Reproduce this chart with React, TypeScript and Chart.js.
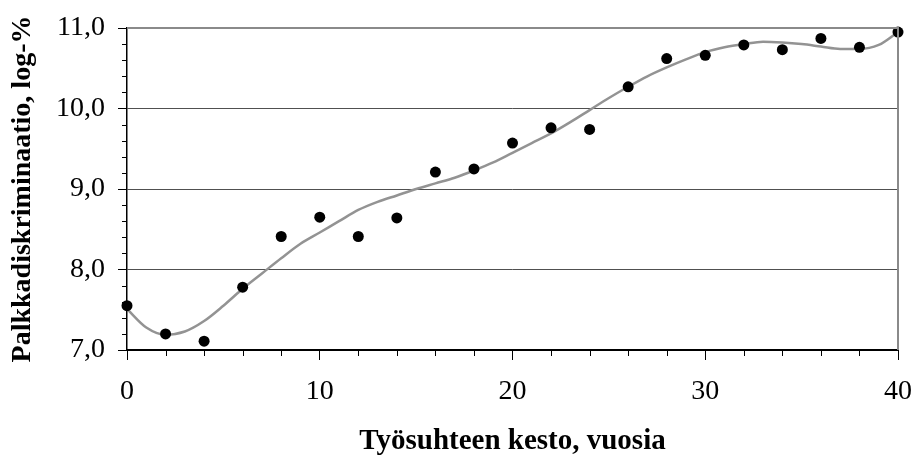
import React, { useEffect, useRef } from "react";
import { Chart, registerables } from "chart.js";

Chart.register(...registerables);

// Observed wage discrimination by tenure (every second year)
const tenureYears = [0, 2, 4, 6, 8, 10, 12, 14, 16, 18, 20, 22, 24, 26, 28, 30, 32, 34, 36, 38, 40];
const discrimination = [
  7.55, 7.2, 7.11, 7.78, 8.41, 8.65, 8.41, 8.64, 9.21, 9.25, 9.57,
  9.76, 9.74, 10.27, 10.62, 10.66, 10.79, 10.73, 10.87, 10.76, 10.95,
];

// Smoothed trend, one value per year
const trendYears = [
  0, 1, 2, 3, 4, 5, 6, 7, 8, 9, 10, 11, 12, 13, 14, 15, 16, 17, 18, 19, 20,
  21, 22, 23, 24, 25, 26, 27, 28, 29, 30, 31, 32, 33, 34, 35, 36, 37, 38, 39, 40,
];
const trendValues = [
  7.51, 7.28, 7.19, 7.23, 7.36, 7.55, 7.76, 7.95, 8.14, 8.32, 8.46,
  8.6, 8.74, 8.84, 8.92, 9.0, 9.07, 9.14, 9.23, 9.33, 9.45,
  9.57, 9.69, 9.83, 9.98, 10.13, 10.27, 10.4, 10.51, 10.61, 10.7,
  10.76, 10.8, 10.83, 10.82, 10.8, 10.77, 10.74, 10.74, 10.79, 10.95,
];

const yTickValues = [7, 8, 9, 10, 11];
const xTickValues = [0, 10, 20, 30, 40];

const FONT = "'Liberation Serif', 'Times New Roman', serif";

const isWhole = (v: number, list: number[]) => list.some((t) => Math.abs(t - v) < 1e-6);

// Short outward tick marks for minor steps plus the grey top/right frame
const framePlugin = {
  id: "frameAndMinorTicks",
  afterDraw(chart: any) {
    const { ctx, chartArea } = chart;
    const xs = chart.scales.x;
    const ys = chart.scales.y;
    ctx.save();
    ctx.strokeStyle = "#000";
    ctx.lineWidth = 1;
    ys.ticks.forEach((t: any) => {
      if (isWhole(t.value, yTickValues)) return;
      const py = Math.round(ys.getPixelForValue(t.value)) + 0.5;
      ctx.beginPath();
      ctx.moveTo(chartArea.left - 5, py);
      ctx.lineTo(chartArea.left, py);
      ctx.stroke();
    });
    xs.ticks.forEach((t: any) => {
      if (isWhole(t.value, xTickValues)) return;
      const px = Math.round(xs.getPixelForValue(t.value)) + 0.5;
      ctx.beginPath();
      ctx.moveTo(px, chartArea.bottom);
      ctx.lineTo(px, chartArea.bottom + 6);
      ctx.stroke();
    });
    ctx.strokeStyle = "#8a8a8a";
    ctx.lineWidth = 2;
    ctx.beginPath();
    ctx.moveTo(chartArea.left, chartArea.top);
    ctx.lineTo(chartArea.right, chartArea.top);
    ctx.lineTo(chartArea.right, chartArea.bottom);
    ctx.stroke();
    ctx.restore();
  },
};

export default function App() {
  const canvasRef = useRef<HTMLCanvasElement | null>(null);

  useEffect(() => {
    if (!canvasRef.current) return;
    const chart = new Chart(canvasRef.current, {
      type: "scatter",
      data: {
        datasets: [
          {
            label: "Palkkadiskriminaatio",
            data: tenureYears.map((x, i) => ({ x, y: discrimination[i] })),
            backgroundColor: "#000",
            borderColor: "#000",
            pointRadius: 5.5,
            pointBorderWidth: 0,
            showLine: false,
            clip: false as any,
          },
          {
            label: "Trendi",
            data: trendYears.map((x, i) => ({ x, y: trendValues[i] })),
            borderColor: "#939393",
            borderWidth: 2.5,
            pointRadius: 0,
            showLine: true,
            cubicInterpolationMode: "monotone",
          },
        ],
      },
      options: {
        responsive: true,
        maintainAspectRatio: false,
        animation: false,
        layout: { padding: { left: 0, right: 17, top: 28, bottom: 0 } },
        plugins: {
          legend: { display: false },
          tooltip: { enabled: false },
        },
        scales: {
          x: {
            type: "linear",
            min: 0,
            max: 40,
            afterFit: (scale: any) => {
              scale.height = 110;
              scale.paddingLeft = 0;
              scale.paddingRight = 0;
            },
            ticks: {
              stepSize: 2,
              autoSkip: false,
              maxRotation: 0,
              padding: 15,
              color: "#000",
              font: { family: FONT, size: 28 },
              callback: (v: any) => (isWhole(Number(v), xTickValues) ? String(v) : ""),
            },
            grid: {
              drawOnChartArea: false,
              tickLength: 10,
              tickColor: (c: any) =>
                c.tick && isWhole(c.tick.value, xTickValues) ? "#000" : "rgba(0,0,0,0)",
            },
            border: { display: true, color: "#000", width: 2 },
            title: {
              display: true,
              text: "Työsuhteen kesto, vuosia",
              color: "#000",
              font: { family: FONT, size: 29, weight: "bold" },
              padding: { top: 0, bottom: 1 },
            },
          },
          y: {
            type: "linear",
            min: 7,
            max: 11,
            afterFit: (scale: any) => {
              scale.width = 127;
              scale.paddingTop = 0;
              scale.paddingBottom = 0;
            },
            ticks: {
              stepSize: 0.2,
              autoSkip: false,
              padding: 13,
              color: "#000",
              font: { family: FONT, size: 28 },
              callback: (v: any) =>
                isWhole(Number(v), yTickValues) ? Number(v).toFixed(1).replace(".", ",") : "",
            },
            grid: {
              tickLength: 9,
              lineWidth: 1,
              color: (c: any) => {
                const v = c.tick ? c.tick.value : NaN;
                return [8, 9, 10].some((t) => Math.abs(t - v) < 1e-6) ? "#505050" : "rgba(0,0,0,0)";
              },
              tickColor: (c: any) =>
                c.tick && isWhole(c.tick.value, yTickValues) ? "#000" : "rgba(0,0,0,0)",
            },
            border: { display: true, color: "#000", width: 1.5 },
            title: {
              display: true,
              text: "Palkkadiskriminaatio, log-%",
              color: "#000",
              font: { family: FONT, size: 28, weight: "bold" },
              padding: { top: 6, bottom: 0 },
            },
          },
        },
      },
      plugins: [framePlugin],
    });
    return () => chart.destroy();
  }, []);

  return (
    <div
      style={{
        position: "fixed",
        left: 0,
        top: 0,
        width: 915,
        height: 460,
        background: "#fff",
      }}
    >
      <canvas ref={canvasRef} />
    </div>
  );
}
